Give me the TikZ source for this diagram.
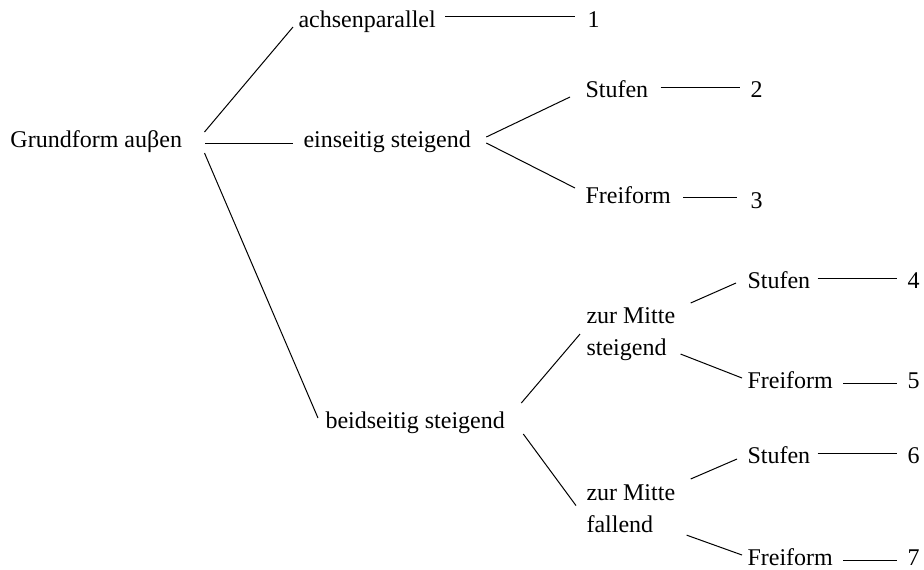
\documentclass[tikz,border=0pt]{standalone}
\usepackage{fontspec}
\setmainfont{Liberation Serif}
\usepackage{tikz}

\begin{document}
\begin{tikzpicture}[x=0.5pt,y=-0.5pt,line width=0.5pt,
		every node/.style={inner sep=0pt,font=\fontsize{12}{16}\selectfont},
		lbl/.style={anchor=base west},
		twoline/.style={anchor=north west,align=left}]
		\useasboundingbox (0,0) rectangle (924,569);
		% first level
		\node[lbl] (root) at (10,147) {Grundform auβen};
		\node[lbl] (achsen) at (298,27) {achsenparallel};
		\node[lbl] (einseitig) at (303,147) {einseitig steigend};
		\node[lbl] (beidseitig) at (325,428) {beidseitig steigend};
		% einseitig
		\node[lbl] (stufenA) at (585,97) {Stufen};
		\node[lbl] (freiA) at (585,203) {Freiform};
		% beidseitig
		\node[twoline] (mitteS) at (586,307) {zur Mitte\\steigend};
		\node[twoline] (mitteF) at (586,484) {zur Mitte\\fallend};
		\node[lbl] (stufenB) at (747,288) {Stufen};
		\node[lbl] (freiB) at (747,388) {Freiform};
		\node[lbl] (stufenC) at (747,463) {Stufen};
		\node[lbl] (freiC) at (747,565) {Freiform};
		% numbers
		\node[lbl] (n1) at (587,27) {1};
		\node[lbl] (n2) at (750,97) {2};
		\node[lbl] (n3) at (750,208) {3};
		\node[lbl] (n4) at (907,288) {4};
		\node[lbl] (n5) at (907,388) {5};
		\node[lbl] (n6) at (907,463) {6};
		\node[lbl] (n7) at (907,565) {7};
		% branches
		\draw ([shift={(22,-15)}]root.base east) -- ([shift={(-5,0)}]achsen.base west);
		\draw ([shift={(23,-4)}]root.base east) -- ([shift={(-10,-4)}]einseitig.base west);
		\draw ([shift={(22,6)}]root.base east) -- ([shift={(-7,-10)}]beidseitig.base west);
		\draw ([shift={(9,-11)}]achsen.base east) -- ([shift={(-12,-11)}]n1.base west);
		\draw ([shift={(15,-10)}]einseitig.base east) -- ([shift={(-15,0)}]stufenA.base west);
		\draw ([shift={(15,-4)}]einseitig.base east) -- ([shift={(-10,-15)}]freiA.base west);
		\draw ([shift={(12,-10)}]stufenA.base east) -- ([shift={(-10,-10)}]n2.base west);
		\draw ([shift={(12,-6)}]freiA.base east) -- ([shift={(-13,-11)}]n3.base west);
		\draw ([shift={(16,-25)}]beidseitig.base east) -- ([shift={(-6,0)}]mitteS.west);
		\draw ([shift={(18,6)}]beidseitig.base east) -- ([shift={(-10,-3)}]mitteF.west);
		\draw ([shift={(15,-4)}]mitteS.north east) -- ([shift={(-11,-5)}]stufenB.base west);
		\draw ([shift={(5,-7)}]mitteS.south east) -- ([shift={(-5,-10)}]freiB.base west);
		\draw ([shift={(15,-5)}]mitteF.north east) -- ([shift={(-10,-4)}]stufenC.base west);
		\draw ([shift={(11,2)}]mitteF.south east) -- ([shift={(-5,-10)}]freiC.base west);
		\draw ([shift={(7,-10)}]stufenB.base east) -- ([shift={(-10,-10)}]n4.base west);
		\draw ([shift={(10,-5)}]freiB.base east) -- ([shift={(-10,-5)}]n5.base west);
		\draw ([shift={(7,-10)}]stufenC.base east) -- ([shift={(-10,-10)}]n6.base west);
		\draw ([shift={(10,-5)}]freiC.base east) -- ([shift={(-10,-5)}]n7.base west);
	\end{tikzpicture}
\end{document}
